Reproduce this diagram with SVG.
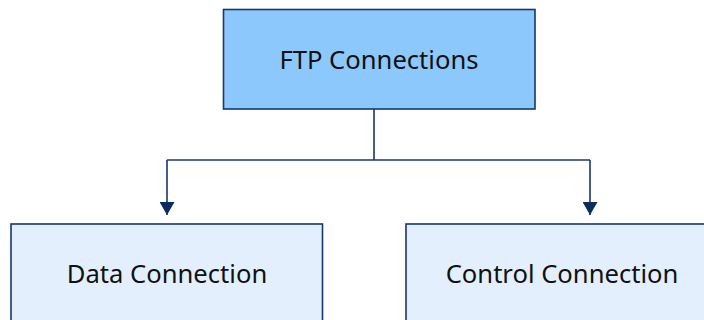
<svg xmlns="http://www.w3.org/2000/svg" width="704" height="320" viewBox="0 0 704 320">
  <style>
    .box { stroke: #16386a; stroke-width: 1.6; }
    .root { fill: #8cc8fb; }
    .leaf { fill: #e3effc; }
    .label { font-family: "Noto Sans", "Open Sans", sans-serif; font-size: 25.6px; fill: #111111; text-anchor: middle; }
    .wire { fill: none; stroke: #16386a; stroke-width: 1.6; }
  </style>
  <defs>
    <!-- filled triangle pointing along the line's direction -->
    <marker id="arrow" viewBox="0 0 13 15" refX="13" refY="7.5" markerWidth="13" markerHeight="15" markerUnits="userSpaceOnUse" orient="auto">
      <path d="M0,0 L13,7.5 L0,15 Z" fill="#0b2c5c"/>
    </marker>
  </defs>
  <rect width="704" height="320" fill="#ffffff"/>

  <g id="connectors">
    <path class="wire" d="M374,109 V160"/>
    <path class="wire" d="M167,160 H590"/>
    <path class="wire" d="M167,160 V215" marker-end="url(#arrow)"/>
    <path class="wire" d="M590,160 V215" marker-end="url(#arrow)"/>
  </g>

  <g id="ftp-connections">
    <rect class="box root" x="223.5" y="9.5" width="311.5" height="99.5"/>
    <text class="label" x="379" y="69">FTP Connections</text>
  </g>

  <g id="data-connection">
    <rect class="box leaf" x="11" y="224" width="311.5" height="110"/>
    <text class="label" x="167" y="283">Data Connection</text>
  </g>

  <g id="control-connection">
    <rect class="box leaf" x="406" y="224" width="311.5" height="110"/>
    <text class="label" x="562" y="283">Control Connection</text>
  </g>
</svg>
